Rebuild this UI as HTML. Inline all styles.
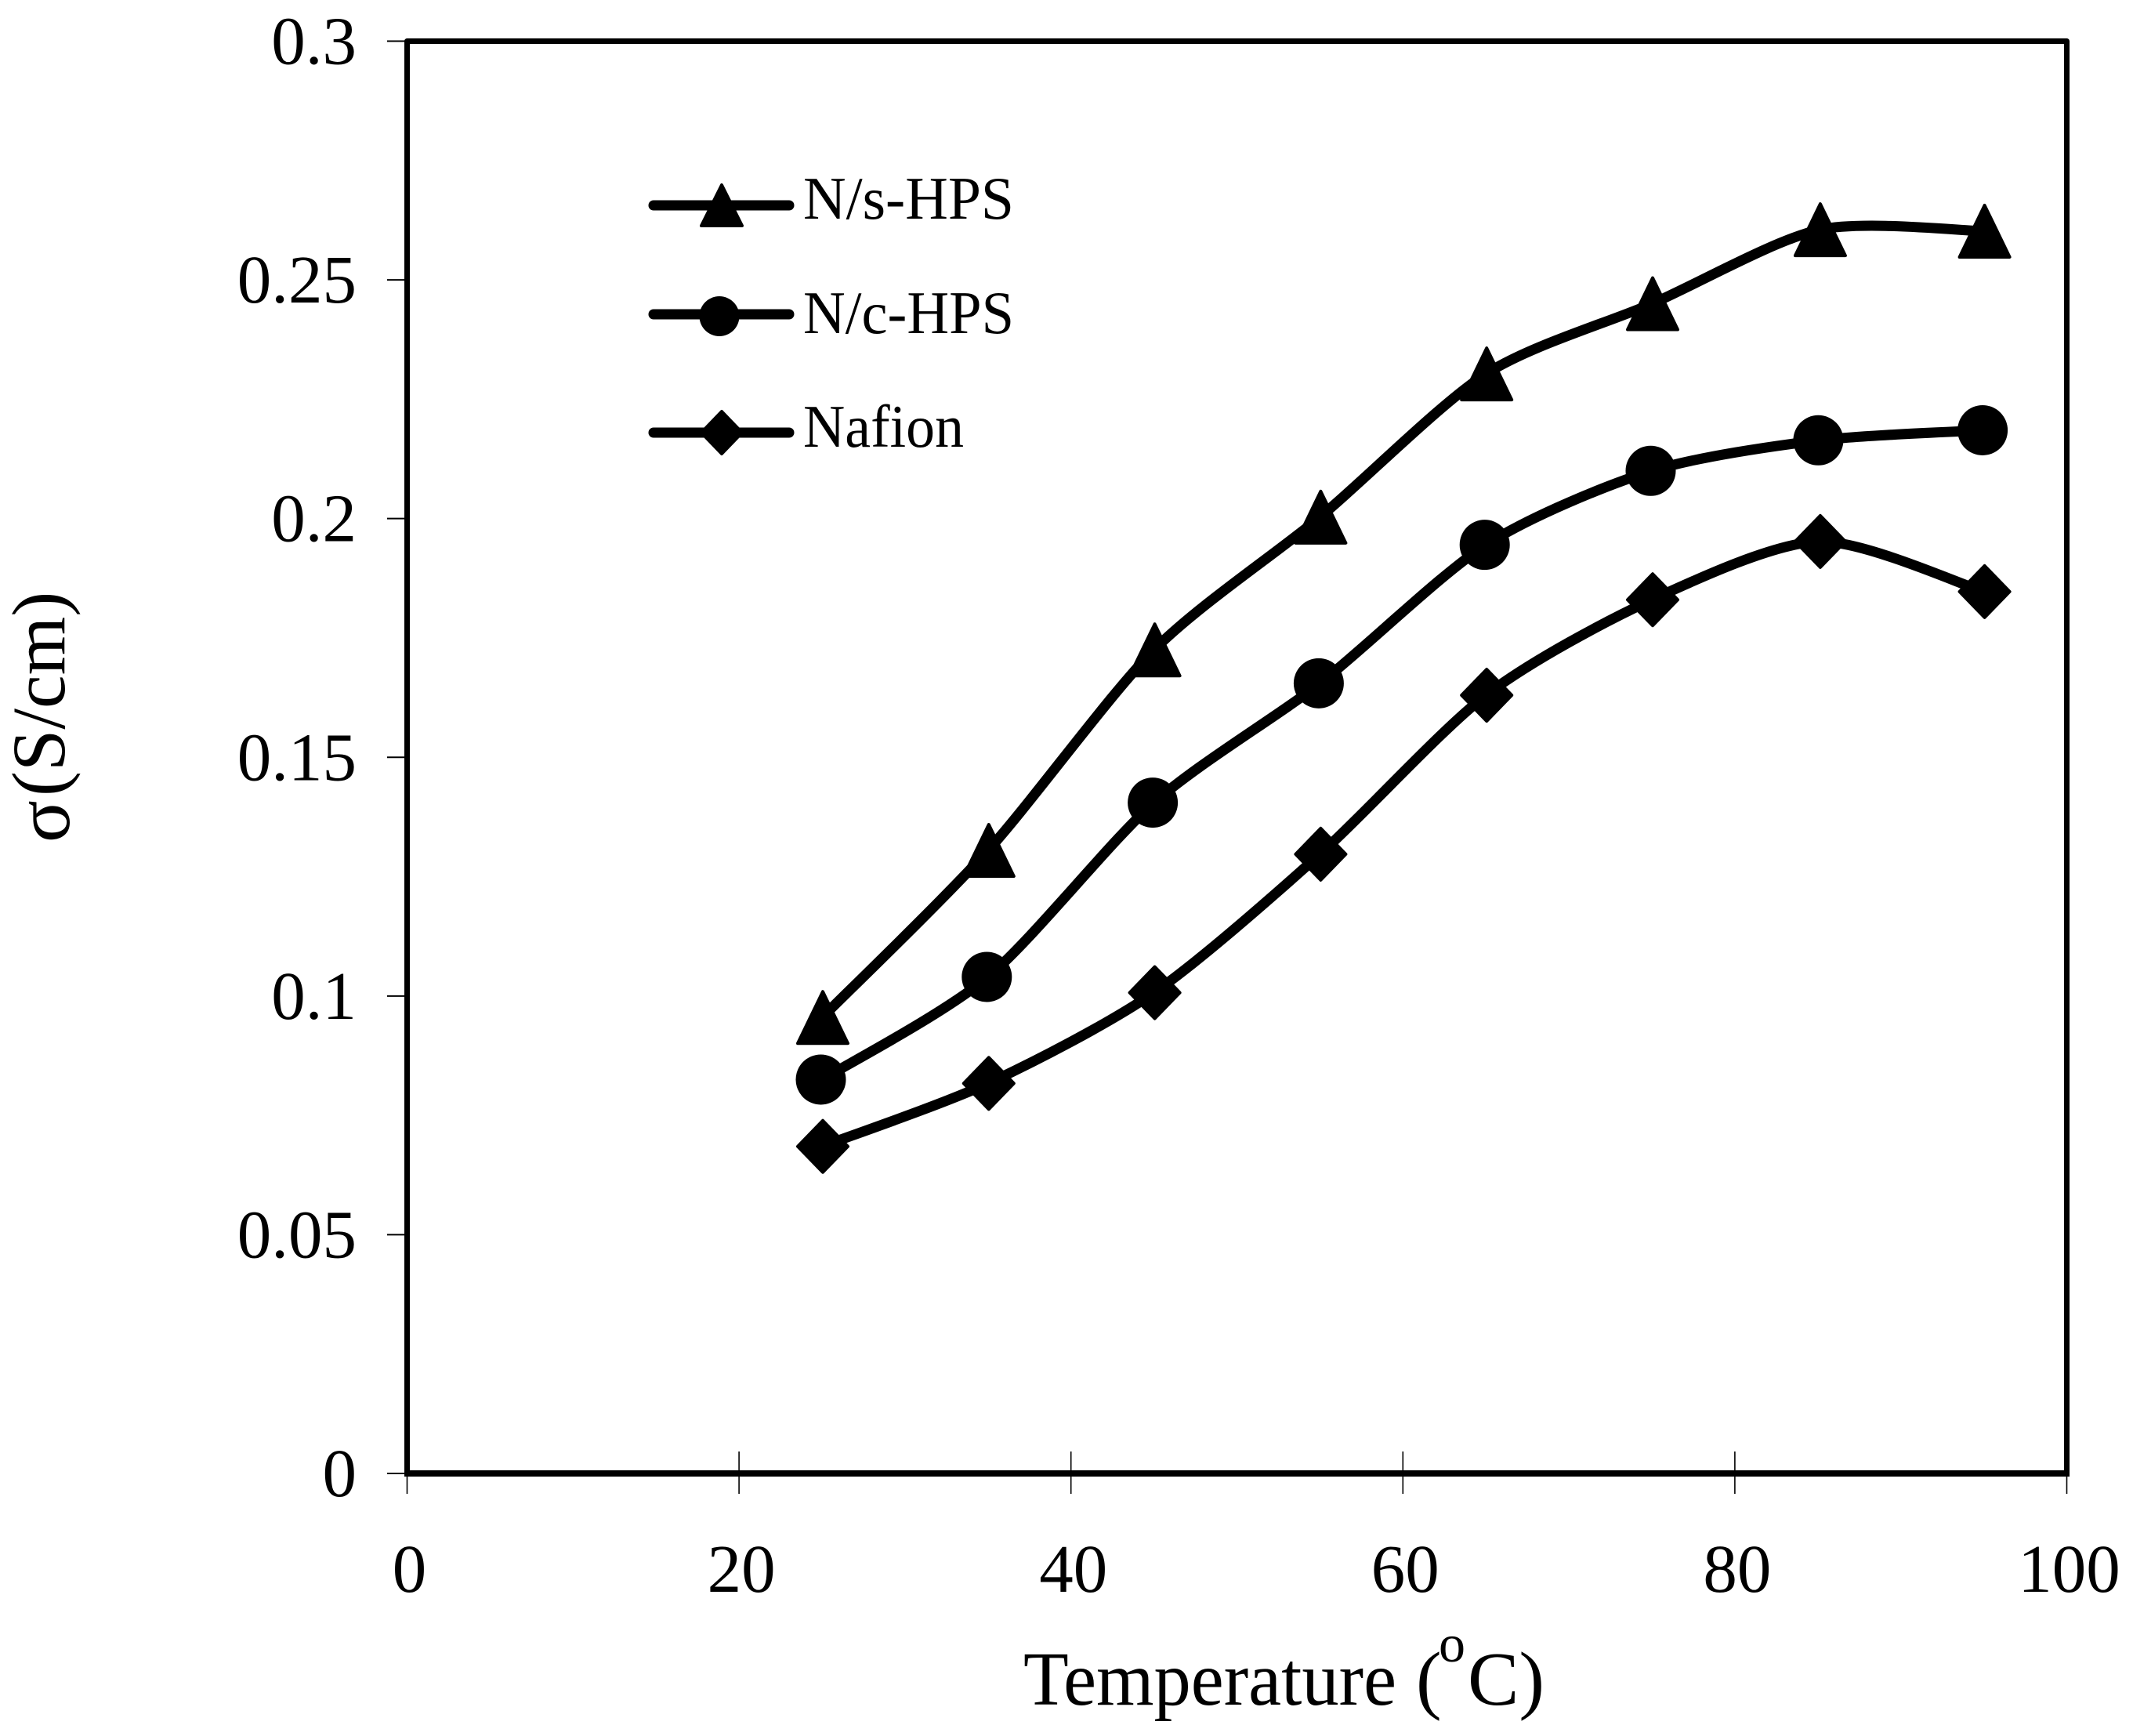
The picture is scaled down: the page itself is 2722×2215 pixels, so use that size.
<!DOCTYPE html>
<html lang="en">
<head>
<meta charset="utf-8">
<title>Conductivity vs Temperature</title>
<style>
html,body{margin:0;padding:0;background:#fff;}
svg{display:block;}
text{font-family:"Liberation Serif","DejaVu Serif",serif;fill:#000;}
</style>
</head>
<body>
<svg id="chart" xmlns="http://www.w3.org/2000/svg" width="2722" height="2215" viewBox="0 0 2722 2215">
  <rect x="0" y="0" width="2722" height="2215" fill="#fff"/>
  <rect x="519.5" y="52.5" width="2118" height="1827" fill="none" stroke="#000" stroke-width="7" stroke-linejoin="round"/>
  <line x1="516" y1="1880" x2="2641" y2="1880" stroke="#000" stroke-width="8"/>
  <g id="ticks"></g>
  <g id="series"></g>

  <g>
    <g>
      <line x1="834" y1="262" x2="1007" y2="262" stroke="#000" stroke-width="13" stroke-linecap="round"/>
      <polygon points="921,236 947,288 895,288" fill="#000" stroke="#000" stroke-width="4" stroke-linejoin="round"/>
      <text x="1025" y="279" font-size="77" textLength="269" lengthAdjust="spacingAndGlyphs">N/s-HPS</text>
    </g>
    <g>
      <line x1="834" y1="401" x2="1007" y2="401" stroke="#000" stroke-width="13" stroke-linecap="round"/>
      <circle cx="918" cy="403.5" r="25.5" fill="#000"/>
      <text x="1025" y="425" font-size="77" textLength="269" lengthAdjust="spacingAndGlyphs">N/c-HPS</text>
    </g>
    <g>
      <line x1="834" y1="552" x2="1007" y2="552" stroke="#000" stroke-width="13" stroke-linecap="round"/>
      <polygon points="921,525 947,552 921,579 895,552" fill="#000" stroke="#000" stroke-width="4" stroke-linejoin="round"/>
      <text x="1025" y="570" font-size="77" textLength="205" lengthAdjust="spacingAndGlyphs">Nafion</text>
    </g>
  </g>

  <g>
    <text x="1306" y="2175" font-size="98" textLength="476" lengthAdjust="spacingAndGlyphs">Temperature</text>
    <text x="1807" y="2175" font-size="98">(</text>
    <text x="1836" y="2120" font-size="68">o</text>
    <text x="1873" y="2175" font-size="98">C)</text>
  </g>
  <g>
    <text transform="translate(88,1075) rotate(-90)" font-size="100">σ</text>
    <text transform="translate(82,1016) rotate(-90)" font-size="96">(S/cm)</text>
  </g>
</svg>
<script>
const temperatures = [25, 35, 45, 55, 65, 75, 85.1, 95];
const nsHps = [0.0955, 0.1305, 0.1725, 0.2003, 0.2303, 0.245, 0.2605, 0.2602];
const ncHps = [0.0825, 0.104, 0.1405, 0.1655, 0.1945, 0.21, 0.2164, 0.2185];
const nafion = [0.0685, 0.0817, 0.1007, 0.1297, 0.163, 0.183, 0.1952, 0.1847];
const xTickValues = [0, 20, 40, 60, 80, 100];
const xTickLabels = ['0', '20', '40', '60', '80', '100'];
const yTickValues = [0, 0.05, 0.1, 0.15, 0.2, 0.25, 0.3];
const yTickLabels = ['0', '0.05', '0.1', '0.15', '0.2', '0.25', '0.3'];

const NS = 'http://www.w3.org/2000/svg';
const X0 = 519.5, X1 = 2637.5, Y0 = 1880, Y1 = 52.5;
const TANGENT_DIVISOR = 7.5;
function xScale(t) { return X0 + (t / 100) * (X1 - X0); }
function yScale(v) { return Y0 - (v / 0.3) * (Y0 - Y1); }
function make(tag, attrs, parent) {
  const el = document.createElementNS(NS, tag);
  for (const k in attrs) el.setAttribute(k, attrs[k]);
  parent.appendChild(el);
  return el;
}
const tickLayer = document.getElementById('ticks');
xTickValues.forEach(function (t, i) {
  const x = xScale(t);
  const tick = make('line', {x1: x, x2: x, y1: 1852, y2: 1906, stroke: '#000', 'stroke-width': 1.6}, tickLayer);
  
  
  const label = make('text', {x: x + 3, y: 2031, 'font-size': 87, 'text-anchor': 'middle'}, tickLayer);
  label.textContent = xTickLabels[i];
  
  
});
yTickValues.forEach(function (v, i) {
  const y = yScale(v);
  const tick = make('line', {x1: 494, x2: 517, y1: y, y2: y, stroke: '#000', 'stroke-width': 2}, tickLayer);
  
  
  const label = make('text', {x: 455, y: y + 29, 'font-size': 87, 'text-anchor': 'end'}, tickLayer);
  label.textContent = yTickLabels[i];
  
  
});

function smoothPath(values) {
  const pts = values.map(function (v, i) { return [xScale(temperatures[i]), yScale(v)]; });
  let d = 'M' + pts[0][0] + ' ' + pts[0][1];
  for (let i = 0; i < pts.length - 1; i++) {
    const p0 = pts[Math.max(i - 1, 0)], p1 = pts[i], p2 = pts[i + 1], p3 = pts[Math.min(i + 2, pts.length - 1)];
    const c1x = p1[0] + (p2[0] - p0[0]) / TANGENT_DIVISOR, c1y = p1[1] + (p2[1] - p0[1]) / TANGENT_DIVISOR;
    const c2x = p2[0] - (p3[0] - p1[0]) / TANGENT_DIVISOR, c2y = p2[1] - (p3[1] - p1[1]) / TANGENT_DIVISOR;
    d += 'C' + c1x + ' ' + c1y + ' ' + c2x + ' ' + c2y + ' ' + p2[0] + ' ' + p2[1];
  }
  return d;
}
function triangle(g, x, y) {
  return make('polygon', {points: (x + 1) + ',' + (y - 33) + ' ' + (x + 33) + ',' + (y + 33) + ' ' + (x - 31) + ',' + (y + 33),
    fill: '#000', stroke: '#000', 'stroke-width': 4, 'stroke-linejoin': 'round'}, g);
}
function circle(g, x, y) {
  return make('circle', {cx: x - 1.5, cy: y, r: 32, fill: '#000'}, g);
}
function diamond(g, x, y) {
  return make('polygon', {points: (x + 1) + ',' + (y - 33) + ' ' + (x + 33) + ',' + y + ' ' + (x + 1) + ',' + (y + 33) + ' ' + (x - 31) + ',' + y,
    fill: '#000', stroke: '#000', 'stroke-width': 4, 'stroke-linejoin': 'round'}, g);
}
const seriesLayer = document.getElementById('series');
function drawSeries(values, marker, seriesName, markerName) {
  const g = make('g', {}, seriesLayer);
  
  
  const line = make('path', {d: smoothPath(values), fill: 'none', stroke: '#000', 'stroke-width': 13, 'stroke-linejoin': 'round'}, g);
  
  
  values.forEach(function (v, i) {
    const m = marker(g, xScale(temperatures[i]), yScale(v));
    
    
  });
}
drawSeries(nsHps, triangle, 'series-ns-hps', 'ns-hps-point');
drawSeries(ncHps, circle, 'series-nc-hps', 'nc-hps-point');
drawSeries(nafion, diamond, 'series-nafion', 'nafion-point');
</script>
</body>
</html>
